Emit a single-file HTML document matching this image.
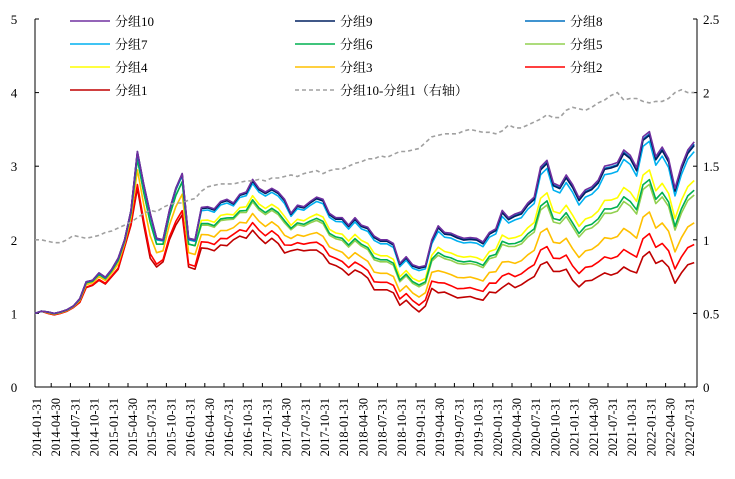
<!DOCTYPE html>
<html><head><meta charset="utf-8"><style>
body{margin:0;background:#fff;}
svg text{font-family:"Liberation Serif","Noto Serif CJK SC","Noto Sans CJK SC",serif;}
</style></head><body>
<svg id="chart" width="735" height="474" xmlns="http://www.w3.org/2000/svg"></svg>
<script>
const categoriesStart = [2014, 1];
const group10 = [1.0,1.03,1.02,1.0,1.02,1.05,1.1,1.2,1.43,1.45,1.55,1.49,
1.6,1.75,2.0,2.4,3.2,2.75,2.36,2.02,2.0,2.4,2.7,2.9,
2.02,2.0,2.44,2.45,2.42,2.52,2.55,2.5,2.62,2.65,2.82,2.7,
2.65,2.7,2.65,2.55,2.36,2.47,2.45,2.52,2.58,2.55,2.36,2.3,
2.3,2.2,2.3,2.2,2.17,2.05,2.0,2.0,1.95,1.68,1.77,1.66,
1.63,1.65,2.0,2.19,2.1,2.09,2.05,2.02,2.03,2.02,1.97,2.1,
2.15,2.4,2.3,2.35,2.38,2.5,2.58,2.99,3.08,2.77,2.73,2.88,
2.75,2.57,2.68,2.72,2.81,3.0,3.02,3.05,3.22,3.15,2.98,3.4,
3.47,3.13,3.26,3.1,2.7,3.0,3.22,3.33];
const group1 = [1.0,1.03,1.0,0.98,1.0,1.03,1.08,1.15,1.35,1.38,1.45,1.4,
1.5,1.6,1.9,2.2,2.7,2.2,1.75,1.63,1.7,2.0,2.2,2.34,
1.63,1.6,1.89,1.88,1.85,1.93,1.92,2.0,2.05,2.02,2.13,2.03,
1.95,2.02,1.95,1.82,1.85,1.87,1.85,1.86,1.86,1.8,1.68,1.65,
1.6,1.52,1.59,1.55,1.48,1.32,1.32,1.32,1.28,1.11,1.18,1.09,
1.02,1.1,1.34,1.28,1.29,1.25,1.21,1.22,1.23,1.2,1.18,1.29,
1.28,1.35,1.41,1.35,1.39,1.45,1.5,1.66,1.7,1.57,1.57,1.6,
1.45,1.36,1.44,1.45,1.5,1.55,1.52,1.55,1.63,1.58,1.55,1.77,
1.84,1.68,1.72,1.63,1.41,1.55,1.66,1.69];
const spread = [1.0,1.0,0.99,0.98,0.98,1.0,1.03,1.02,1.01,1.02,1.03,1.05,
1.06,1.08,1.1,1.12,1.15,1.18,1.2,1.19,1.22,1.24,1.25,1.25,
1.27,1.28,1.33,1.36,1.37,1.38,1.38,1.38,1.39,1.4,1.4,1.41,
1.4,1.42,1.42,1.43,1.44,1.43,1.45,1.46,1.47,1.45,1.47,1.48,
1.48,1.5,1.52,1.53,1.55,1.55,1.57,1.56,1.58,1.6,1.6,1.61,
1.62,1.66,1.7,1.71,1.72,1.72,1.72,1.74,1.75,1.74,1.73,1.73,
1.72,1.74,1.78,1.76,1.76,1.78,1.8,1.82,1.85,1.83,1.83,1.88,
1.9,1.89,1.88,1.9,1.93,1.95,1.98,2.0,1.95,1.96,1.96,1.94,
1.93,1.94,1.94,1.96,2.0,2.02,2.0,2.0];
// relative position of groups 2..9 between group1 and group10 (early era, later era)
const groupNames = ["分组1","分组2","分组3","分组4","分组5","分组6","分组7","分组8","分组9","分组10"];
const groupColors = ["#C00000","#FF0000","#FFC000","#FFFF00","#92D050","#00B050","#00B0F0","#0070C0","#002060","#7030A0"];
const weightsEarly = [0,0.1,0.5,0.95,0.8,0.8,0.95,0.97,1.0,1];
const weightsLate = [0,0.15,0.33,0.68,0.56,0.6,0.92,0.98,0.97,1];
const leftTicks = [0,1,2,3,4,5];
const rightTicks = ["0","0.5","1","1.5","2","2.5"];

const NS="http://www.w3.org/2000/svg";
const svg=document.getElementById('chart');
const X0=35,X1=697,Y0=387,YT=19;
const xS=i=>X0+i*6.4;
const yL=v=>Y0-(v/5)*(Y0-YT);
const yR=v=>Y0-(v/2.5)*(Y0-YT);
function mk(t,a){const e=document.createElementNS(NS,t);for(const k in a)e.setAttribute(k,a[k]);svg.appendChild(e);return e;}

// axes
let e=mk('line',{x1:X0,y1:YT,x2:X0,y2:Y0,stroke:'#000','stroke-width':1});

e=mk('line',{x1:X1,y1:YT,x2:X1,y2:Y0,stroke:'#000','stroke-width':1});

e=mk('line',{x1:X0,y1:Y0,x2:X1,y2:Y0,stroke:'#000','stroke-width':1});

leftTicks.forEach(v=>{
  const t=mk('line',{x1:X0,y1:yL(v),x2:X0+4,y2:yL(v),stroke:'#000'});
  
  const l=mk('text',{x:14,y:yL(v)+5,'font-size':13,'text-anchor':'middle'});l.textContent=v;
  
});
rightTicks.forEach(s=>{
  const v=parseFloat(s);
  const t=mk('line',{x1:X1-4,y1:yR(v),x2:X1,y2:yR(v),stroke:'#000'});
  
  const l=mk('text',{x:703,y:yR(v)+5,'font-size':13});l.textContent=s;
  
});
for(let i=0;i<group10.length;i+=3){
  const y=categoriesStart[0]+Math.floor((i+categoriesStart[1]-1)/12);
  const m=(i+categoriesStart[1]-1)%12+1;
  const d=[31,28,31,30,31,30,31,31,30,31,30,31][m-1];
  const lab=y+'-'+String(m).padStart(2,'0')+'-'+d;
  const x=xS(i)+2;
  if(i>0){const t=mk('line',{x1:xS(i)-3,y1:Y0,x2:xS(i)-3,y2:Y0-4,stroke:'#000'});
  }
  const l=mk('text',{x:x+4,y:398,'font-size':12.5,'text-anchor':'end',transform:`rotate(-90 ${x+4} 398)`});
  l.textContent=lab;
  
}
// series
for(let g=0;g<10;g++){
  const pts=group10.map((v,i)=>{const w=i<=25?weightsEarly[g]:weightsLate[g];const val=group1[i]+(v-group1[i])*w;return xS(i).toFixed(1)+','+yL(val).toFixed(1);});
  const p=mk('polyline',{points:pts.join(' '),fill:'none',stroke:groupColors[g],'stroke-width':1.6,'stroke-linejoin':'round'});
  
}
const sp=mk('polyline',{points:spread.map((v,i)=>xS(i).toFixed(1)+','+yR(v).toFixed(1)).join(' '),fill:'none',stroke:'#A0A0A0','stroke-width':1.6,'stroke-dasharray':'4,3'});


// legend
const legend=[[9,70,21],[8,295,21],[7,525,21],[6,70,44],[5,295,44],[4,525,44],[3,70,67],[2,295,67],[1,525,67],[0,70,90]];
legend.forEach(([g,x,y])=>{
  const l=mk('line',{x1:x,y1:y,x2:x+40,y2:y,stroke:groupColors[g],'stroke-width':1.6});
  
  const t=mk('text',{x:x+45,y:y+5,'font-size':13});t.textContent=groupNames[g];
  
});
e=mk('line',{x1:295,y1:90,x2:335,y2:90,stroke:'#A0A0A0','stroke-width':1.6,'stroke-dasharray':'4,3'});

e=mk('text',{x:340,y:95,'font-size':13});e.textContent='分组10-分组1（右轴）';

</script>
</body></html>
